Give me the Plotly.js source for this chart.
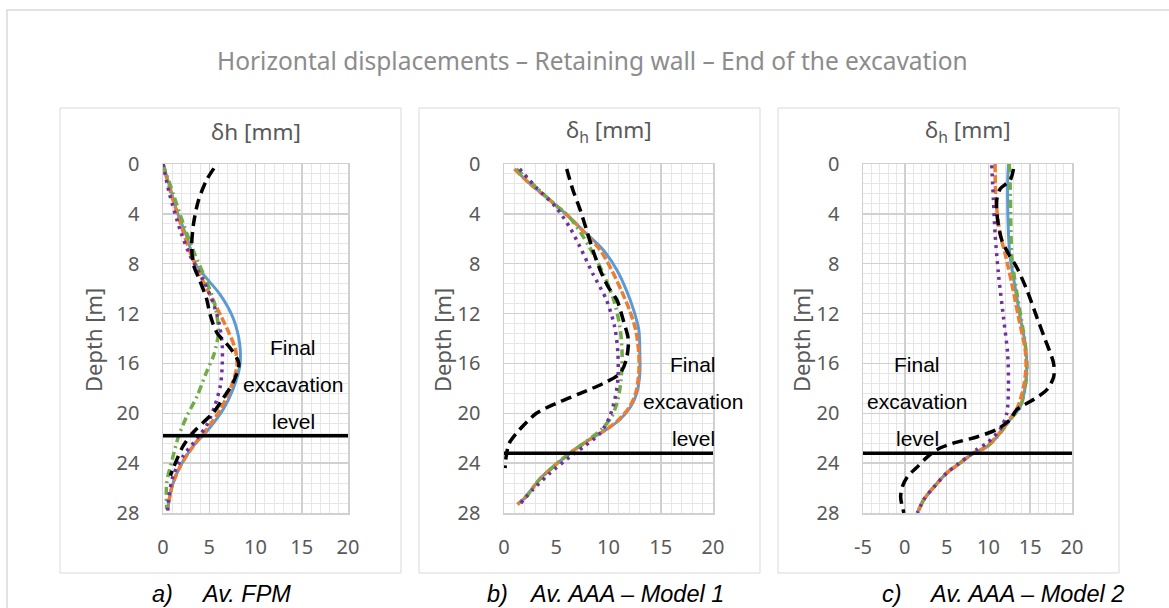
<!DOCTYPE html>
<html>
<head>
<meta charset="utf-8">
<script src="https://cdn.plot.ly/plotly-3.0.1.min.js"></script>
<style>html,body{margin:0;padding:0;background:#fff;}#chart{width:1169px;height:608px;}</style>
</head>
<body>
<div id="chart"></div>
<script>
// ---------- Data ----------
// Panel a) Av. FPM
const blueA_x   = [0, 0.8, 1.6, 2.6, 3.5, 4.4, 6.2, 7.6, 8.3, 8.3, 7.6, 6.5, 4.9, 3.3, 1.9, 1.0, 0.5];
const blueA_d   = [0, 2, 4, 5.9, 8.0, 8.9, 10.5, 12.4, 14.5, 16.2, 18.0, 19.7, 21.3, 22.6, 24.2, 25.8, 27.7];
const orangeA_x = [0, 0.8, 1.9, 2.9, 4.0, 5.3, 6.2, 7.1, 7.8, 8.0, 7.3, 6.2, 4.7, 3.3, 1.9, 1.0, 0.5];
const orangeA_d = [0, 2.2, 4.8, 7.0, 8.9, 10.8, 12.1, 13.5, 14.8, 16.2, 18.0, 19.7, 21.3, 22.6, 24.2, 25.8, 27.7];
const purpleA_x = [0, 0.7, 1.9, 2.9, 4.4, 5.5, 6.1, 6.4, 6.4, 6.2, 5.6, 4.7, 3.7, 2.2, 1.1, 0.6, 0.5];
const purpleA_d = [0, 2.4, 5.4, 7.3, 9.4, 11.3, 12.9, 14.5, 16.2, 17.8, 19.4, 21.0, 22.0, 23.4, 25.0, 26.9, 28.0];
const greenA_x  = [0, 1.1, 2.2, 3.3, 4.7, 5.6, 6.0, 5.5, 4.7, 3.7, 2.6, 1.7, 1.0, 0.4, 0.4];
const greenA_d  = [0, 2.4, 4.8, 7.0, 9.4, 11.3, 13.5, 15.3, 16.7, 18.6, 20.2, 21.8, 23.7, 25.6, 27.7];
const blackA_x  = [5.5, 4.7, 3.8, 3.3, 3.1, 3.3, 4.0, 4.7, 5.1, 5.8, 7.3, 8.2, 7.6, 6.5, 5.5, 4.4, 3.3, 2.2, 1.5, 0.8];
const blackA_d  = [0.35, 1.3, 3.0, 4.8, 6.5, 8.1, 9.4, 10.8, 12.1, 13.5, 14.8, 16.0, 17.5, 18.8, 19.9, 20.7, 21.5, 22.6, 23.7, 25.0];
const levelA = 21.8;

// Panel b) Av. AAA – Model 1
const blueB_x   = [1.0, 2.5, 4.4, 6.3, 7.9, 9.5, 10.8, 11.7, 12.4, 12.9, 13.0, 13.0, 12.7, 12.1, 11.1, 9.8, 8.2, 6.3, 4.7, 3.4, 2.1, 1.3];
const blueB_d   = [0.4, 1.6, 2.9, 4.3, 5.6, 6.9, 8.5, 10.1, 11.7, 13.3, 15.2, 16.8, 18.4, 19.5, 20.5, 21.3, 22.1, 23.2, 24.3, 25.3, 26.7, 27.3];
const orangeB_x = [1.0, 2.5, 4.4, 6.3, 7.8, 9.2, 10.3, 11.2, 12.0, 12.6, 12.9, 12.9, 12.6, 12.0, 11.0, 9.8, 8.2, 6.3, 4.7, 3.4, 2.1, 1.3];
const orangeB_d = [0.4, 1.6, 2.9, 4.3, 5.6, 6.9, 8.5, 10.1, 11.7, 13.3, 15.2, 16.8, 18.4, 19.5, 20.5, 21.3, 22.1, 23.2, 24.3, 25.3, 26.7, 27.3];
const purpleB_x = [1.5, 3.1, 5.0, 6.3, 7.3, 8.5, 9.8, 10.6, 10.9, 10.9, 10.6, 10.1, 9.2, 7.6, 6.0, 4.4, 2.8, 1.5];
const purpleB_d = [0.4, 1.9, 3.5, 5.1, 6.7, 8.8, 10.9, 13.1, 15.2, 17.3, 18.9, 20.3, 21.6, 22.7, 23.7, 24.8, 26.1, 27.3];
const greenB_x  = [1.2, 3.0, 4.8, 6.3, 8.2, 9.5, 10.5, 11.1, 11.3, 11.2, 10.9, 10.3, 9.3, 7.8, 6.3, 4.7, 3.4, 2.1, 1.3];
const greenB_d  = [0.4, 1.8, 3.2, 4.3, 6.7, 8.8, 10.9, 13.1, 15.2, 17.3, 18.9, 20.3, 21.3, 22.3, 23.2, 24.3, 25.3, 26.7, 27.3];
const blackB_x  = [6.0, 6.6, 7.3, 7.9, 8.5, 9.2, 10.0, 10.8, 11.4, 11.9, 11.7, 11.1, 9.5, 7.3, 5.0, 3.1, 1.5, 0.5, 0.2, 0.1];
const blackB_d  = [0.4, 2.1, 3.7, 5.3, 6.9, 8.5, 9.9, 10.9, 12.5, 14.1, 15.7, 16.8, 17.6, 18.4, 19.2, 20.0, 21.3, 22.4, 23.5, 24.4];
const levelB = 23.2;

// Panel c) Av. AAA – Model 2
const blueC_x   = [12.4, 12.3, 12.4, 12.6, 13.2, 13.8, 14.4, 14.6, 14.4, 13.8, 12.6, 11.4, 9.8, 8.2, 6.6, 5.0, 3.5, 2.3, 1.5];
const blueC_d   = [0, 1.6, 5.6, 7.5, 9.9, 12.3, 14.4, 16.3, 17.9, 19.5, 20.5, 21.6, 22.7, 23.2, 24.0, 24.8, 25.9, 26.9, 28];
const greenC_x  = [12.5, 12.6, 12.7, 12.8, 13.3, 13.9, 14.4, 14.6, 14.4, 13.8, 12.6, 11.4, 9.8, 8.2, 6.6, 5.0, 3.5, 2.3, 1.5];
const greenC_d  = [0, 1.6, 5.6, 7.5, 9.9, 12.3, 14.4, 16.3, 17.9, 19.5, 20.5, 21.6, 22.7, 23.2, 24.0, 24.8, 25.9, 26.9, 28];
const orangeC_x = [10.8, 10.9, 11.4, 12.0, 12.8, 13.6, 14.4, 14.5, 14.2, 13.5, 12.5, 11.3, 9.7, 8.2, 6.6, 5.0, 3.5, 2.3, 1.5];
const orangeC_d = [0, 2.9, 5.6, 7.2, 9.6, 12.3, 14.9, 16.3, 17.9, 19.5, 20.5, 21.6, 22.7, 23.2, 24.0, 24.8, 25.9, 26.9, 28];
const purpleC_x = [10.4, 10.6, 10.8, 11.2, 11.8, 12.3, 12.4, 12.2, 11.4, 9.8, 8.6, 7.5, 6.3, 5.0, 3.5, 2.3, 1.5];
const purpleC_d = [0.1, 2.9, 5.6, 8.8, 12.3, 15.2, 17.9, 20.0, 21.3, 22.4, 22.9, 23.5, 24.1, 24.8, 25.9, 26.9, 28];
const blackC_x  = [13.0, 12.6, 11.4, 11.0, 11.1, 11.6, 12.4, 13.4, 14.6, 15.8, 16.8, 17.8, 17.8, 17.0, 15.4, 13.4, 12.6, 11.0, 8.6, 5.8, 3.9, 2.7, 1.5, 0.3, -0.3, -0.5, -0.3, -0.1];
const blackC_d  = [0.4, 1.3, 2.0, 2.9, 4.5, 6.1, 7.2, 8.3, 10.1, 12.3, 14.1, 16.0, 17.1, 18.1, 18.9, 19.7, 20.5, 21.3, 21.9, 22.4, 22.9, 23.5, 24.3, 25.1, 25.9, 26.7, 27.5, 28];
const levelC = 23.2;

// Axes / labels
const depthTicks = [0, 4, 8, 12, 16, 20, 24, 28];
const xTicksAB = [0, 5, 10, 15, 20];
const xTicksC = [-5, 0, 5, 10, 15, 20];
const xRangeAB = [0, 20];
const xRangeC = [-5, 20];
const mainTitle = "Horizontal displacements \u2013 Retaining wall \u2013 End of the excavation";
const panelTitles = ["\u03b4h [mm]", "\u03b4<sub>h</sub> [mm]", "\u03b4<sub>h</sub> [mm]"];
const depthTitle = "Depth [m]";
const captionLetters = ["a)", "b)", "c)"];
const captionTexts = ["Av. FPM", "Av. AAA \u2013 Model 1", "Av. AAA \u2013 Model 2"];
const levelWords = ["Final", "excavation", "level"];

// ---------- Styles ----------
const W = 1169, H = 608;
const px = x => x / W;
const py = y => 1 - y / H;
const BLUE = "#5B9BD5", ORANGE = "#ED7D31", GREEN = "#70AD47", PURPLE = "#7030A0", BLACK = "#000000";
const DASH_BLACK = "11px,6px", DASH_ORANGE = "8px,3px", DASH_GREEN = "8px,4px,2px,4px", DASH_PURPLE = "3px,5px";

function series(x, y, color, dash, width, axis) {
  return {
    x: x, y: y, type: "scatter", mode: "lines",
    line: { color: color, dash: dash, width: width, shape: "spline", smoothing: 0.8 },
    xaxis: "x" + axis, yaxis: "y" + axis, showlegend: false, hoverinfo: "skip"
  };
}
function levelLine(range, lvl, axis) {
  return {
    x: range, y: [lvl, lvl], type: "scatter", mode: "lines",
    line: { color: BLACK, width: 3.5 }, xaxis: "x" + axis, yaxis: "y" + axis,
    showlegend: false, hoverinfo: "skip", cliponaxis: false
  };
}

const traces = [
  series(blueA_x, blueA_d, BLUE, "solid", 3, ""),
  series(orangeA_x, orangeA_d, ORANGE, DASH_ORANGE, 3.5, ""),
  series(greenA_x, greenA_d, GREEN, DASH_GREEN, 3.5, ""),
  series(purpleA_x, purpleA_d, PURPLE, DASH_PURPLE, 3.5, ""),
  series(blackA_x, blackA_d, BLACK, DASH_BLACK, 3.5, ""),
  levelLine(xRangeAB, levelA, ""),

  series(blueB_x, blueB_d, BLUE, "solid", 3, "2"),
  series(orangeB_x, orangeB_d, ORANGE, DASH_ORANGE, 3.5, "2"),
  series(greenB_x, greenB_d, GREEN, DASH_GREEN, 3.5, "2"),
  series(purpleB_x, purpleB_d, PURPLE, DASH_PURPLE, 3.5, "2"),
  series(blackB_x, blackB_d, BLACK, DASH_BLACK, 3.5, "2"),
  levelLine(xRangeAB, levelB, "2"),

  series(blueC_x, blueC_d, BLUE, "solid", 3, "3"),
  series(greenC_x, greenC_d, GREEN, DASH_GREEN, 3.5, "3"),
  series(orangeC_x, orangeC_d, ORANGE, DASH_ORANGE, 3.5, "3"),
  series(purpleC_x, purpleC_d, PURPLE, DASH_PURPLE, 3.5, "3"),
  series(blackC_x, blackC_d, BLACK, DASH_BLACK, 3.5, "3"),
  levelLine(xRangeC, levelC, "3")
];

const TICKFONT = { family: "Noto Sans, DejaVu Sans, sans-serif", size: 20, color: "#595959" };
const MAJOR = "#d0d0d0", MINOR = "#e6e6e6";
function xAxis(domain, range, ticks, anchor) {
  return {
    domain: domain, range: range, anchor: anchor,
    tickvals: ticks, ticktext: ticks.map(String),
    showgrid: true, gridcolor: MAJOR, gridwidth: 1.5, zeroline: false,
    showline: true, mirror: true, linecolor: MAJOR, linewidth: 1.5,
    ticks: "", tickfont: TICKFONT, ticklabelstandoff: 15,
    minor: { dtick: 1, tick0: 0, showgrid: true, gridcolor: MINOR, gridwidth: 1 },
    fixedrange: true
  };
}
function yAxis(domain, anchor) {
  return {
    domain: domain, range: [28, 0], anchor: anchor,
    tickvals: depthTicks, ticktext: depthTicks.map(String),
    showgrid: true, gridcolor: MAJOR, gridwidth: 1.5, zeroline: false,
    showline: true, mirror: true, linecolor: MAJOR, linewidth: 1.5,
    ticks: "", tickfont: TICKFONT, ticklabelstandoff: 18,
    minor: { dtick: 0.8, tick0: 0, showgrid: true, gridcolor: MINOR, gridwidth: 1 },
    fixedrange: true
  };
}

const yDom = [py(513), py(164)];
const layout = {
  width: W, height: H,
  margin: { l: 0, r: 0, t: 0, b: 0 },
  paper_bgcolor: "#ffffff", plot_bgcolor: "#ffffff",
  showlegend: false,
  xaxis:  xAxis([px(163), px(348)], xRangeAB, xTicksAB, "y"),
  yaxis:  yAxis(yDom, "x"),
  xaxis2: xAxis([px(504), px(713)], xRangeAB, xTicksAB, "y2"),
  yaxis2: yAxis(yDom, "x2"),
  xaxis3: xAxis([px(863), px(1072)], xRangeC, xTicksC, "y3"),
  yaxis3: yAxis(yDom, "x3"),
  shapes: [
    { type: "rect", xref: "paper", yref: "paper", x0: px(7), x1: px(1180), y0: py(620), y1: py(10), line: { color: "#d9d9d9", width: 1.5 } },
    { type: "rect", xref: "paper", yref: "paper", x0: px(60), x1: px(401), y0: py(573), y1: py(108), line: { color: "#d9d9d9", width: 1 } },
    { type: "rect", xref: "paper", yref: "paper", x0: px(419), x1: px(760), y0: py(573), y1: py(108), line: { color: "#d9d9d9", width: 1 } },
    { type: "rect", xref: "paper", yref: "paper", x0: px(778), x1: px(1119), y0: py(573), y1: py(108), line: { color: "#d9d9d9", width: 1 } }
  ],
  annotations: []
};

const ann = layout.annotations;
ann.push({ text: mainTitle, xref: "paper", yref: "paper", x: px(592), y: py(61), xanchor: "center", yanchor: "middle", showarrow: false,
  font: { family: "Noto Sans, sans-serif", size: 24.5, color: "#8c8c8c" } });
const titleCenters = [255.5, 608.5, 967.5];
panelTitles.forEach((t, i) => ann.push({ text: t, xref: "paper", yref: "paper", x: px(titleCenters[i]), y: py(131), xanchor: "center", yanchor: "middle",
  showarrow: false, font: { family: "Noto Sans, sans-serif", size: 22.5, color: "#595959" } }));
const depthTitleX = [93, 442, 801];
depthTitleX.forEach(cx => ann.push({ text: depthTitle, xref: "paper", yref: "paper", x: px(cx), y: py(340), xanchor: "center", yanchor: "middle",
  textangle: -90, showarrow: false, font: { family: "Noto Sans, sans-serif", size: 22, color: "#595959" } }));
const capLetterX = [150, 485, 880], capTextX = [199, 527, 927];
captionLetters.forEach((t, i) => {
  ann.push({ text: t, xref: "paper", yref: "paper", x: px(capLetterX[i]), y: py(594), xanchor: "left", yanchor: "middle", showarrow: false,
    font: { family: "Liberation Sans, Arial, sans-serif", size: 23.5, color: "#000000", style: "italic" } });
  ann.push({ text: captionTexts[i], xref: "paper", yref: "paper", x: px(capTextX[i]), y: py(594), xanchor: "left", yanchor: "middle", showarrow: false,
    font: { family: "Liberation Sans, Arial, sans-serif", size: 23.5, color: "#000000", style: "italic" } });
});
const levelTextX = [293, 693, 917];
const levelTextY = [[347, 384, 421], [364, 401, 438], [364, 401, 438]];
levelTextX.forEach((cx, i) => levelWords.forEach((w, j) => ann.push({
  text: w, xref: "paper", yref: "paper", x: px(cx), y: py(levelTextY[i][j]), xanchor: "center", yanchor: "middle", showarrow: false,
  font: { family: "Liberation Sans, Arial, sans-serif", size: 21, color: "#000000" } })));

Plotly.newPlot("chart", traces, layout, { staticPlot: true, displayModeBar: false });
</script>
</body>
</html>
